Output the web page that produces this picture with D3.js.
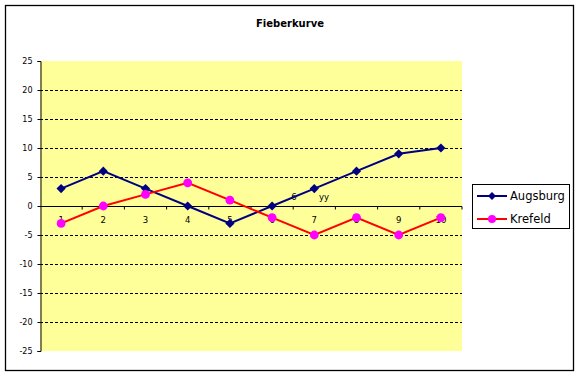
<!DOCTYPE html>
<html>
<head>
<meta charset="utf-8">
<script src="https://cdn.jsdelivr.net/npm/d3@7"></script>
<style>
  body { margin: 0; background: #fff; }
  text { font-family: Tahoma, "DejaVu Sans", sans-serif; }
</style>
</head>
<body>
<svg id="chart" width="580" height="376"></svg>
<script>
// Fieberkurve - two cities, values per day
const categories = ['1', '2', '3', '4', '5', '6', '7', '8', '9', '10'];
const augsburg = [3, 6, 3, 0, -3, 0, 3, 6, 9, 10];
const krefeld = [-3, 0, 2, 4, 1, -2, -5, -2, -5, -2];
const yTicks = [-25, -20, -15, -10, -5, 0, 5, 10, 15, 20, 25];
const seriesNames = ['Augsburg', 'Krefeld'];

const svg = d3.select('#chart');

// outer chart border
svg.append('rect')
  .attr('x', 5.5).attr('y', 5.5)
  .attr('width', 568).attr('height', 365)
  .attr('fill', '#fff').attr('stroke', '#000').attr('stroke-width', 1.3);

const plotLeft = 40, plotRight = 462, plotTop = 61, plotBottom = 351;

const x = d3.scaleBand().domain(categories).range([plotLeft, plotRight]);
const y = d3.scaleLinear().domain([-25, 25]).range([plotBottom, plotTop]);

// square-ish diamond like excel
const diamond = r => `M0,${-r}L${r},0L0,${r}L${-r},0Z`;

// plot area
svg.append('rect')
  .attr('x', plotLeft).attr('y', plotTop)
  .attr('width', plotRight - plotLeft).attr('height', plotBottom - plotTop)
  .attr('fill', '#ffff99');

// dashed gridlines
svg.append('g')
  .selectAll('line')
  .data(yTicks.filter(d => d !== -25 && d !== 0 && d !== 25))
  .join('line')
  .attr('x1', plotLeft).attr('x2', plotRight)
  .attr('y1', d => Math.round(y(d)) + 0.5).attr('y2', d => Math.round(y(d)) + 0.5)
  .attr('stroke', '#000').attr('stroke-dasharray', '3,2');

// y axis
const yAxis = svg.append('g')
  .attr('transform', `translate(${plotLeft + 0.5},0)`)
  .call(d3.axisLeft(y).tickValues(yTicks).tickFormat(d => String(d)).tickSize(3).tickPadding(5));
yAxis.select('.domain').attr('stroke', '#000');
yAxis.selectAll('text').attr('font-size', 8).attr('fill', '#000');

// x axis at zero
const xAxis = svg.append('g')
  .attr('transform', `translate(0,${Math.round(y(0)) + 0.5})`)
  .call(d3.axisBottom(x).tickSize(0).tickPadding(10));
xAxis.select('.domain').attr('d', `M${plotLeft},0H${plotRight}`).attr('stroke', '#000');
xAxis.selectAll('text').attr('font-size', 8.5).attr('fill', '#000');
xAxis.selectAll('line.band')
  .data(d3.range(1, categories.length + 1))
  .join('line')
  .attr('class', 'band')
  .attr('x1', i => plotLeft + i * x.bandwidth()).attr('x2', i => plotLeft + i * x.bandwidth())
  .attr('y1', 0).attr('y2', 3)
  .attr('stroke', '#000');

// stray labels in the plot
svg.append('text').attr('x', 294).attr('y', 200).attr('text-anchor', 'middle')
  .attr('font-size', 8.5).text('6');
svg.append('text').attr('x', 324).attr('y', 200).attr('text-anchor', 'middle')
  .attr('font-size', 8.5).text('yy');

const cx = (d, i) => x(categories[i]) + x.bandwidth() / 2;
const line = d3.line().x(cx).y(d => y(d));

// Augsburg
svg.append('path').datum(augsburg)
  .attr('d', line).attr('fill', 'none')
  .attr('stroke', '#000080').attr('stroke-width', 2);
svg.append('g').selectAll('path')
  .data(augsburg)
  .join('path')
  .attr('d', diamond(4.6))
  .attr('transform', (d, i) => `translate(${cx(d, i)},${y(d)})`)
  .attr('fill', '#000080');

// Krefeld
svg.append('path').datum(krefeld)
  .attr('d', line).attr('fill', 'none')
  .attr('stroke', '#ff0000').attr('stroke-width', 2);
svg.append('g').selectAll('circle')
  .data(krefeld)
  .join('circle')
  .attr('cx', cx).attr('cy', d => y(d)).attr('r', 4.4)
  .attr('fill', '#ff00ff');

// legend
const legend = svg.append('g');
legend.append('rect')
  .attr('x', 472.5).attr('y', 184.5).attr('width', 97).attr('height', 44)
  .attr('fill', '#fff').attr('stroke', '#000');
const colors = ['#000080', '#ff0000'];
seriesNames.forEach((name, i) => {
  const ly = 196 + i * 23;
  legend.append('line')
    .attr('x1', 477).attr('x2', 507).attr('y1', ly).attr('y2', ly)
    .attr('stroke', colors[i]).attr('stroke-width', 2);
  if (i === 0) {
    legend.append('path').attr('d', diamond(4))
      .attr('transform', `translate(492,${ly})`).attr('fill', '#000080');
  } else {
    legend.append('circle').attr('cx', 492).attr('cy', ly).attr('r', 4)
      .attr('fill', '#ff00ff');
  }
  legend.append('text').attr('x', 510).attr('y', ly + 4)
    .attr('font-size', 11.5).text(name);
});

// title
svg.append('text')
  .attr('x', 290).attr('y', 27).attr('text-anchor', 'middle')
  .attr('font-size', 10).attr('font-weight', 'bold').text('Fieberkurve');
</script>
</body>
</html>
